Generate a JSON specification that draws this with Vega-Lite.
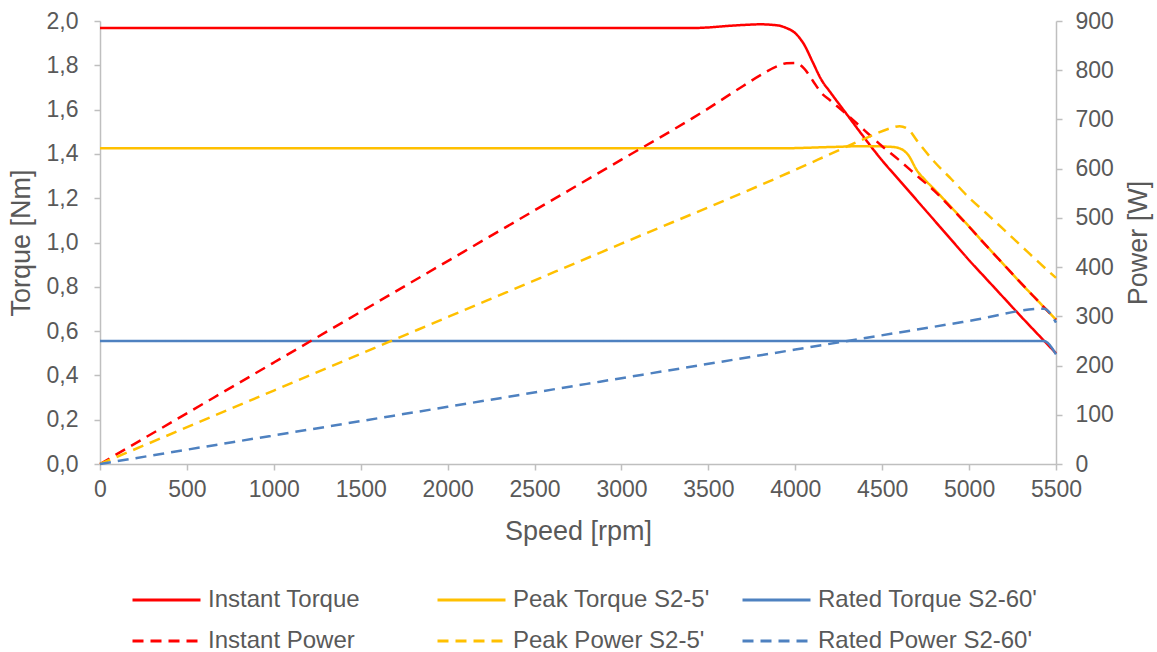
{
  "$schema": "https://vega.github.io/schema/vega-lite/v6.json",
  "width": 956,
  "height": 443,
  "autosize": {"type": "none"},
  "padding": {"left": 100, "top": 21, "right": 101, "bottom": 188},
  "background": "white",
  "config": {
    "font": "Liberation Sans",
    "view": {"stroke": null},
    "axis": {
      "grid": false,
      "domainColor": "#BFBFBF",
      "tickColor": "#BFBFBF",
      "domainWidth": 1.5,
      "tickWidth": 1.5,
      "tickSize": 6,
      "labelColor": "#595959",
      "titleColor": "#595959",
      "labelFontSize": 23,
      "titleFontSize": 27,
      "titleFontWeight": "normal",
      "labelPadding": 13,
      "labelFlush": false,
      "labelOverlap": false,
      "labelBound": false
    }
  },
  "datasets": {
    "torque": [
      {"series": "Instant Torque", "rpm": 0, "value": 1.968},
      {"series": "Instant Torque", "rpm": 1000, "value": 1.968},
      {"series": "Instant Torque", "rpm": 2000, "value": 1.968},
      {"series": "Instant Torque", "rpm": 3000, "value": 1.968},
      {"series": "Instant Torque", "rpm": 3400, "value": 1.968},
      {"series": "Instant Torque", "rpm": 3500, "value": 1.971},
      {"series": "Instant Torque", "rpm": 3600, "value": 1.977},
      {"series": "Instant Torque", "rpm": 3700, "value": 1.982},
      {"series": "Instant Torque", "rpm": 3800, "value": 1.985},
      {"series": "Instant Torque", "rpm": 3900, "value": 1.98},
      {"series": "Instant Torque", "rpm": 3950, "value": 1.968},
      {"series": "Instant Torque", "rpm": 4000, "value": 1.945},
      {"series": "Instant Torque", "rpm": 4050, "value": 1.895},
      {"series": "Instant Torque", "rpm": 4100, "value": 1.815},
      {"series": "Instant Torque", "rpm": 4150, "value": 1.735},
      {"series": "Instant Torque", "rpm": 4200, "value": 1.68},
      {"series": "Instant Torque", "rpm": 4300, "value": 1.575},
      {"series": "Instant Torque", "rpm": 4400, "value": 1.47},
      {"series": "Instant Torque", "rpm": 4500, "value": 1.37},
      {"series": "Instant Torque", "rpm": 4600, "value": 1.28},
      {"series": "Instant Torque", "rpm": 4700, "value": 1.19},
      {"series": "Instant Torque", "rpm": 4800, "value": 1.1},
      {"series": "Instant Torque", "rpm": 4900, "value": 1.01},
      {"series": "Instant Torque", "rpm": 5000, "value": 0.92},
      {"series": "Instant Torque", "rpm": 5100, "value": 0.835},
      {"series": "Instant Torque", "rpm": 5200, "value": 0.75},
      {"series": "Instant Torque", "rpm": 5300, "value": 0.665},
      {"series": "Instant Torque", "rpm": 5400, "value": 0.582},
      {"series": "Instant Torque", "rpm": 5500, "value": 0.5},
      {"series": "Peak Torque S2-5'", "rpm": 0, "value": 1.425},
      {"series": "Peak Torque S2-5'", "rpm": 1000, "value": 1.425},
      {"series": "Peak Torque S2-5'", "rpm": 2000, "value": 1.425},
      {"series": "Peak Torque S2-5'", "rpm": 3000, "value": 1.425},
      {"series": "Peak Torque S2-5'", "rpm": 3900, "value": 1.425},
      {"series": "Peak Torque S2-5'", "rpm": 4200, "value": 1.431},
      {"series": "Peak Torque S2-5'", "rpm": 4400, "value": 1.435},
      {"series": "Peak Torque S2-5'", "rpm": 4550, "value": 1.432},
      {"series": "Peak Torque S2-5'", "rpm": 4600, "value": 1.425},
      {"series": "Peak Torque S2-5'", "rpm": 4650, "value": 1.395},
      {"series": "Peak Torque S2-5'", "rpm": 4700, "value": 1.325},
      {"series": "Peak Torque S2-5'", "rpm": 4750, "value": 1.28},
      {"series": "Peak Torque S2-5'", "rpm": 4800, "value": 1.24},
      {"series": "Peak Torque S2-5'", "rpm": 4900, "value": 1.157},
      {"series": "Peak Torque S2-5'", "rpm": 5000, "value": 1.072},
      {"series": "Peak Torque S2-5'", "rpm": 5100, "value": 0.985},
      {"series": "Peak Torque S2-5'", "rpm": 5200, "value": 0.9},
      {"series": "Peak Torque S2-5'", "rpm": 5300, "value": 0.815},
      {"series": "Peak Torque S2-5'", "rpm": 5400, "value": 0.733},
      {"series": "Peak Torque S2-5'", "rpm": 5500, "value": 0.652},
      {"series": "Rated Torque S2-60'", "rpm": 0, "value": 0.555},
      {"series": "Rated Torque S2-60'", "rpm": 1000, "value": 0.555},
      {"series": "Rated Torque S2-60'", "rpm": 2000, "value": 0.555},
      {"series": "Rated Torque S2-60'", "rpm": 3000, "value": 0.555},
      {"series": "Rated Torque S2-60'", "rpm": 4000, "value": 0.555},
      {"series": "Rated Torque S2-60'", "rpm": 5000, "value": 0.555},
      {"series": "Rated Torque S2-60'", "rpm": 5430, "value": 0.555},
      {"series": "Rated Torque S2-60'", "rpm": 5500, "value": 0.495}
    ],
    "power": [
      {"series": "Instant Power", "rpm": 0, "value": 0},
      {"series": "Instant Power", "rpm": 1000, "value": 206.1},
      {"series": "Instant Power", "rpm": 2000, "value": 412.2},
      {"series": "Instant Power", "rpm": 3000, "value": 618.3},
      {"series": "Instant Power", "rpm": 3400, "value": 700.7},
      {"series": "Instant Power", "rpm": 3500, "value": 722.4},
      {"series": "Instant Power", "rpm": 3600, "value": 745.3},
      {"series": "Instant Power", "rpm": 3700, "value": 768.0},
      {"series": "Instant Power", "rpm": 3800, "value": 789.9},
      {"series": "Instant Power", "rpm": 3900, "value": 808.6},
      {"series": "Instant Power", "rpm": 3950, "value": 814.1},
      {"series": "Instant Power", "rpm": 4000, "value": 814.7},
      {"series": "Instant Power", "rpm": 4050, "value": 803.7},
      {"series": "Instant Power", "rpm": 4100, "value": 779.3},
      {"series": "Instant Power", "rpm": 4150, "value": 754.0},
      {"series": "Instant Power", "rpm": 4200, "value": 738.9},
      {"series": "Instant Power", "rpm": 4300, "value": 709.2},
      {"series": "Instant Power", "rpm": 4400, "value": 677.3},
      {"series": "Instant Power", "rpm": 4500, "value": 645.6},
      {"series": "Instant Power", "rpm": 4600, "value": 616.6},
      {"series": "Instant Power", "rpm": 4700, "value": 585.7},
      {"series": "Instant Power", "rpm": 4800, "value": 555.0},
      {"series": "Instant Power", "rpm": 4900, "value": 519.0},
      {"series": "Instant Power", "rpm": 5000, "value": 482.0},
      {"series": "Instant Power", "rpm": 5100, "value": 443.0},
      {"series": "Instant Power", "rpm": 5200, "value": 405.0},
      {"series": "Instant Power", "rpm": 5300, "value": 367.0},
      {"series": "Instant Power", "rpm": 5400, "value": 330.0},
      {"series": "Instant Power", "rpm": 5500, "value": 293.0},
      {"series": "Peak Power S2-5'", "rpm": 0, "value": 0},
      {"series": "Peak Power S2-5'", "rpm": 1000, "value": 149.2},
      {"series": "Peak Power S2-5'", "rpm": 2000, "value": 298.4},
      {"series": "Peak Power S2-5'", "rpm": 3000, "value": 447.7},
      {"series": "Peak Power S2-5'", "rpm": 3900, "value": 582.0},
      {"series": "Peak Power S2-5'", "rpm": 4200, "value": 629.4},
      {"series": "Peak Power S2-5'", "rpm": 4400, "value": 661.2},
      {"series": "Peak Power S2-5'", "rpm": 4550, "value": 682.3},
      {"series": "Peak Power S2-5'", "rpm": 4600, "value": 686.4},
      {"series": "Peak Power S2-5'", "rpm": 4650, "value": 680.0},
      {"series": "Peak Power S2-5'", "rpm": 4700, "value": 657.0},
      {"series": "Peak Power S2-5'", "rpm": 4800, "value": 614.0},
      {"series": "Peak Power S2-5'", "rpm": 4900, "value": 578.0},
      {"series": "Peak Power S2-5'", "rpm": 5000, "value": 541.0},
      {"series": "Peak Power S2-5'", "rpm": 5100, "value": 509.0},
      {"series": "Peak Power S2-5'", "rpm": 5200, "value": 476.0},
      {"series": "Peak Power S2-5'", "rpm": 5300, "value": 443.0},
      {"series": "Peak Power S2-5'", "rpm": 5400, "value": 410.0},
      {"series": "Peak Power S2-5'", "rpm": 5500, "value": 378.0},
      {"series": "Rated Power S2-60'", "rpm": 0, "value": 0},
      {"series": "Rated Power S2-60'", "rpm": 1000, "value": 58.1},
      {"series": "Rated Power S2-60'", "rpm": 2000, "value": 116.2},
      {"series": "Rated Power S2-60'", "rpm": 3000, "value": 174.4},
      {"series": "Rated Power S2-60'", "rpm": 4000, "value": 232.5},
      {"series": "Rated Power S2-60'", "rpm": 5000, "value": 290.6},
      {"series": "Rated Power S2-60'", "rpm": 5430, "value": 315.6},
      {"series": "Rated Power S2-60'", "rpm": 5500, "value": 287.0}
    ]
  },
  "layer": [
    {
      "data": {"name": "torque"},
      "mark": {"type": "line", "interpolate": "monotone", "strokeWidth": 2.5},
      "encoding": {
        "x": {
          "field": "rpm", "type": "quantitative",
          "scale": {"domain": [0, 5500], "nice": false},
          "axis": {"values": [0, 500, 1000, 1500, 2000, 2500, 3000, 3500, 4000, 4500, 5000, 5500], "format": "d", "title": "Speed [rpm]", "labelPadding": 8, "titlePadding": 17}
        },
        "y": {
          "field": "value", "type": "quantitative",
          "scale": {"domain": [0, 2], "nice": false},
          "axis": {"values": [0, 0.2, 0.4, 0.6, 0.8, 1.0, 1.2, 1.4, 1.6, 1.8, 2.0], "labelExpr": "replace(format(datum.value, '.1f'), '.', ',')", "title": "Torque [Nm]", "labelPadding": 16, "titlePadding": 11}
        },
        "color": {
          "field": "series", "type": "nominal", "title": null,
          "scale": {
            "domain": ["Instant Torque", "Peak Torque S2-5'", "Rated Torque S2-60'", "Instant Power", "Peak Power S2-5'", "Rated Power S2-60'"],
            "range": ["#FF0000", "#FFC000", "#4E81C0", "#FF0000", "#FFC000", "#4E81C0"]
          },
          "legend": {
            "orient": "none", "legendX": 31, "legendY": 565, "direction": "horizontal",
            "columns": 3, "gridAlign": "all", "columnPadding": 8, "rowPadding": 13,
            "symbolType": "stroke", "symbolSize": 4624, "symbolStrokeWidth": 3,
            "clipHeight": 28, "labelFontSize": 24, "labelColor": "#595959",
            "labelLimit": 300, "labelOffset": 6
          }
        },
        "strokeDash": {
          "field": "series", "type": "nominal", "title": null,
          "scale": {
            "domain": ["Instant Torque", "Peak Torque S2-5'", "Rated Torque S2-60'", "Instant Power", "Peak Power S2-5'", "Rated Power S2-60'"],
            "range": [[1, 0], [1, 0], [1, 0], [11, 7], [11, 7], [11, 7]]
          }
        }
      }
    },
    {
      "data": {"name": "power"},
      "mark": {"type": "line", "interpolate": "monotone", "strokeWidth": 2.5},
      "encoding": {
        "x": {"field": "rpm", "type": "quantitative"},
        "y": {
          "field": "value", "type": "quantitative",
          "scale": {"domain": [0, 900], "nice": false},
          "axis": {"orient": "right", "values": [0, 100, 200, 300, 400, 500, 600, 700, 800, 900], "title": "Power [W]", "titleAngle": 270, "titleBaseline": "top", "titlePadding": 12}
        },
        "color": {"field": "series", "type": "nominal", "title": null},
        "strokeDash": {"field": "series", "type": "nominal", "title": null}
      }
    }
  ],
  "resolve": {"scale": {"y": "independent"}}
}
